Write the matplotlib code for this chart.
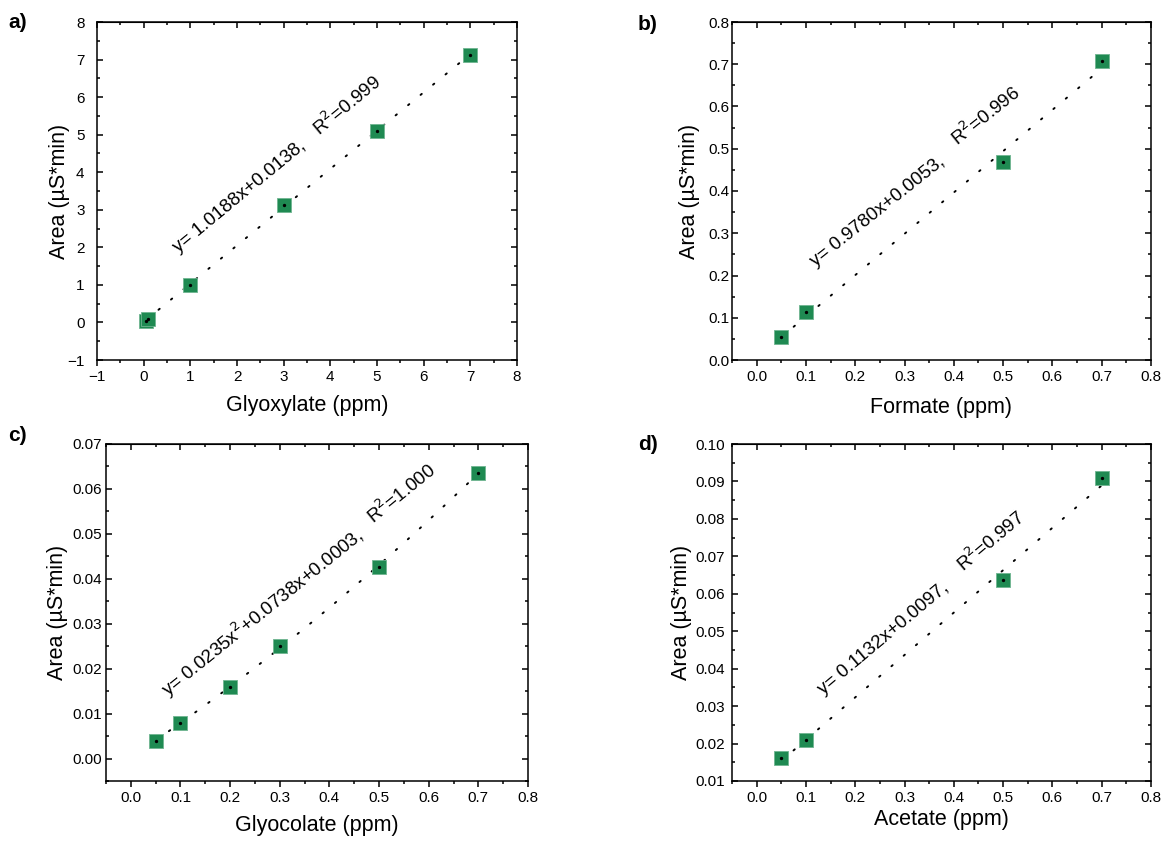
import numpy as np
import matplotlib.pyplot as plt
from matplotlib.ticker import MultipleLocator, FormatStrFormatter

plt.rcParams['font.family'] = ['Liberation Sans', 'DejaVu Sans']

# data
glyox_x = [0.05, 0.1, 1, 3, 5, 7]
glyox_y = [0.05, 0.10, 1.00, 3.13, 5.10, 7.12]
glyox_fit = [1.0188, 0.0138]            # slope, intercept

form_x = [0.05, 0.1, 0.5, 0.7]
form_y = [0.054, 0.113, 0.469, 0.707]
form_fit = [0.9780, 0.0053]

glyc_x = [0.05, 0.1, 0.2, 0.3, 0.5, 0.7]
glyc_y = [0.004, 0.008, 0.016, 0.025, 0.0427, 0.0636]
glyc_fit = [0.0235, 0.0738, 0.0003]     # quadratic

acet_x = [0.05, 0.1, 0.5, 0.7]
acet_y = [0.0161, 0.021, 0.0638, 0.0908]
acet_fit = [0.1132, 0.0097]

GREEN = '#1f8a52'
W, H = 1163, 842

fig = plt.figure(figsize=(W / 100, H / 100), dpi=100)

def px_axes(l, t, r, b):
    return fig.add_axes([l / W, 1 - b / H, (r - l) / W, (b - t) / H])

panels = [
    # letter, box, x, y, fit, xlabel, xlim, ylim, xmaj, ymaj, fmtx, fmty,
    # eq, eq_xy, r2, r2_xy, rot, ypad, letter_xy, ylabel_x, xlabel_y (pixels)
    ('a)', (97, 22, 517, 360), glyox_x, glyox_y, glyox_fit, 'Glyoxylate (ppm)',
     (-1, 8), (-1, 8), 1, 1, None, None,
     'y= 1.0188x+0.0138,', (0.74, 1.85), 'R$^2$=0.999', (3.78, 4.95), 39.5, 9, (8, 22), 59, 405),
    ('b)', (732, 22, 1151, 360), form_x, form_y, form_fit, 'Formate (ppm)',
     (-0.05, 0.8), (0, 0.8), 0.1, 0.1, '%.1f', '%.1f',
     'y= 0.9780x+0.0053,', (0.12, 0.221), 'R$^2$=0.996', (0.407, 0.506), 38.5, 2, (638, 25), 690, 407),
    ('c)', (106, 444, 528, 781), glyc_x, glyc_y, glyc_fit, 'Glyocolate (ppm)',
     (-0.05, 0.8), (-0.005, 0.07), 0.1, 0.01, '%.1f', '%.2f',
     'y= 0.0235x$^2$+0.0738x+0.0003,', (0.076, 0.0137), 'R$^2$=1.000', (0.489, 0.052), 39, 3, (8, 436), 57, 826),
    ('d)', (732, 444, 1151, 781), acet_x, acet_y, acet_fit, 'Acetate (ppm)',
     (-0.05, 0.8), (0.01, 0.10), 0.1, 0.01, '%.1f', '%.2f',
     'y= 0.1132x+0.0097,', (0.135, 0.033), 'R$^2$=0.997', (0.42, 0.0658), 40, 5, (638, 445), 681, 820),
]

for (letter, box, xs, ys, fit, xlabel, xlim, ylim, xmaj, ymaj, fmtx, fmty,
     eq, eq_xy, r2, r2_xy, rot, ypad, lxy, ylab_x, xlab_y) in panels:
    ax = px_axes(*box)
    l, t, r, b = box
    xs = np.array(xs)
    xf = np.linspace(xs.min(), xs.max(), 200)
    yf = np.polyval(fit, xf)
    ax.plot(xf, yf, color='black', lw=1.4, ls=(0, (0.8, 7.5)),
            dash_capstyle='round', zorder=2)
    ax.scatter(xs, ys, marker='s', s=95, color=GREEN, edgecolors='#6fb591',
               linewidths=0.6, zorder=3)
    ax.plot(xs, ys, ls='none', marker='o', ms=1.4, color='black', zorder=5)

    ax.set_xlim(*xlim)
    ax.set_ylim(*ylim)
    ax.xaxis.set_major_locator(MultipleLocator(xmaj))
    ax.xaxis.set_minor_locator(MultipleLocator(xmaj / 2))
    ax.yaxis.set_major_locator(MultipleLocator(ymaj))
    ax.yaxis.set_minor_locator(MultipleLocator(ymaj / 2))
    if fmtx:
        ax.xaxis.set_major_formatter(FormatStrFormatter(fmtx))
    if fmty:
        ax.yaxis.set_major_formatter(FormatStrFormatter(fmty))

    for s in ax.spines.values():
        s.set_linewidth(1.1)
    ax.tick_params(axis='y', which='both', direction='in', left=True, right=True,
                   labelsize=11, pad=ypad, width=1.1)
    ax.tick_params(axis='y', which='major', length=4)
    ax.tick_params(axis='y', which='minor', length=2.5)
    ax.tick_params(axis='x', which='both', direction='out', bottom=True,
                   labelsize=11, pad=3, width=1.1)
    ax.tick_params(axis='x', which='major', length=4)
    ax.tick_params(axis='x', which='minor', length=2.5)

    top = ax.secondary_xaxis('top')
    top.xaxis.set_major_locator(MultipleLocator(xmaj))
    top.xaxis.set_minor_locator(MultipleLocator(xmaj / 2))
    top.tick_params(which='both', direction='in', labeltop=False, width=1.1)
    top.tick_params(which='major', length=4)
    top.tick_params(which='minor', length=2.5)

    ax.set_xlabel(xlabel, fontsize=15.5)
    ax.set_ylabel('Area (µS*min)', fontsize=15.5)
    ax.yaxis.set_label_coords((ylab_x - l) / (r - l), 0.5)
    ax.xaxis.set_label_coords(0.5, (b - xlab_y) / (b - t))
    ax.yaxis.label.set_va('center')
    ax.xaxis.label.set_va('center')

    ax.text(*eq_xy, eq, fontsize=13.5, rotation=rot, rotation_mode='anchor',
            ha='left', va='baseline', zorder=6)
    ax.text(*r2_xy, r2, fontsize=13.5, rotation=rot, rotation_mode='anchor',
            ha='left', va='baseline', zorder=6)

    fig.text(lxy[0] / W, 1 - lxy[1] / H, letter, fontsize=15, fontweight='bold',
             ha='left', va='center')

fig.savefig('out.png', dpi=100, facecolor='white')
